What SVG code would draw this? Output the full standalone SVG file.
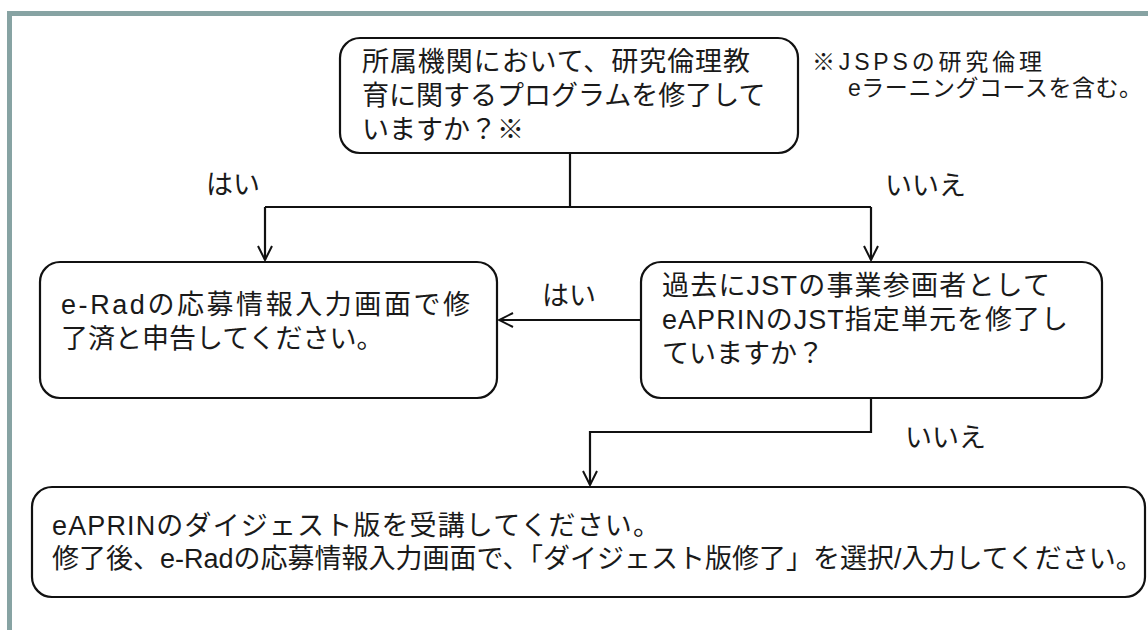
<svg xmlns="http://www.w3.org/2000/svg" width="1148" height="630" viewBox="0 0 1148 630">
<defs>
<style>
.box{fill:#fff;stroke:#111;stroke-width:2.2}
.t{font-family:"Liberation Sans","Noto Sans CJK JP",sans-serif;font-size:27px;fill:#1a1a1a}
.n{font-family:"Liberation Sans","Noto Sans CJK JP",sans-serif;font-size:23px;fill:#1a1a1a}
.c{fill:none;stroke:#111;stroke-width:2.2}
</style>
<marker id="ah" viewBox="0 0 16 16" refX="15" refY="8" markerWidth="16" markerHeight="16" markerUnits="userSpaceOnUse" orient="auto">
<path d="M1,1 L15,8 L1,15" fill="none" stroke="#111" stroke-width="2"/>
</marker>
</defs>
<rect width="1148" height="630" fill="#fff"/>
<path d="M9.5,630 V13.5 H1148" fill="none" stroke="#87a3a3" stroke-width="5"/>

<g id="connectors">
<path class="c" d="M570,152 V207"/>
<path class="c" d="M265,207 H871"/>
<path class="c" d="M265,207 V260" marker-end="url(#ah)"/>
<path class="c" d="M871,207 V260" marker-end="url(#ah)"/>
<path class="c" d="M641,320 H499" marker-end="url(#ah)"/>
<path class="c" d="M871,398 V432 H590 V485" marker-end="url(#ah)"/>
</g>

<g id="q1">
<rect class="box" x="340" y="38" width="458" height="115" rx="20"/>
<text class="t" x="362" y="71" textLength="388" lengthAdjust="spacing">所属機関において、研究倫理教</text>
<text class="t" x="362" y="105">育に関するプログラムを修了して</text>
<text class="t" x="362" y="139">いますか？※</text>
</g>

<g id="note">
<text class="n" x="812" y="70" textLength="230" lengthAdjust="spacing">※JSPSの研究倫理</text>
<text class="n" x="848" y="96" textLength="294" lengthAdjust="spacing">eラーニングコースを含む。</text>
</g>

<g id="labels">
<text class="t" x="206" y="194">はい</text>
<text class="t" x="885" y="195">いいえ</text>
<text class="t" x="542" y="305">はい</text>
<text class="t" x="905" y="447">いいえ</text>
</g>

<g id="done">
<rect class="box" x="40" y="262" width="457" height="136" rx="20"/>
<text class="t" x="61" y="314" textLength="409" lengthAdjust="spacing">e-Radの応募情報入力画面で修</text>
<text class="t" x="61" y="348">了済と申告してください。</text>
</g>

<g id="q2">
<rect class="box" x="641" y="262" width="461" height="136" rx="20"/>
<text class="t" x="662" y="295" textLength="388" lengthAdjust="spacing">過去にJSTの事業参画者として</text>
<text class="t" x="662" y="329" textLength="406" lengthAdjust="spacing">eAPRINのJST指定単元を修了し</text>
<text class="t" x="662" y="363">ていますか？</text>
</g>

<g id="digest">
<rect class="box" x="32" y="487" width="1113" height="110" rx="20"/>
<text class="t" x="52" y="535" textLength="608" lengthAdjust="spacing">eAPRINのダイジェスト版を受講してください。</text>
<text class="t" x="52" y="568">修了後、e-Radの応募情報入力画面で、「ダイジェスト版修了」を選択/入力してください。</text>
</g>
</svg>
